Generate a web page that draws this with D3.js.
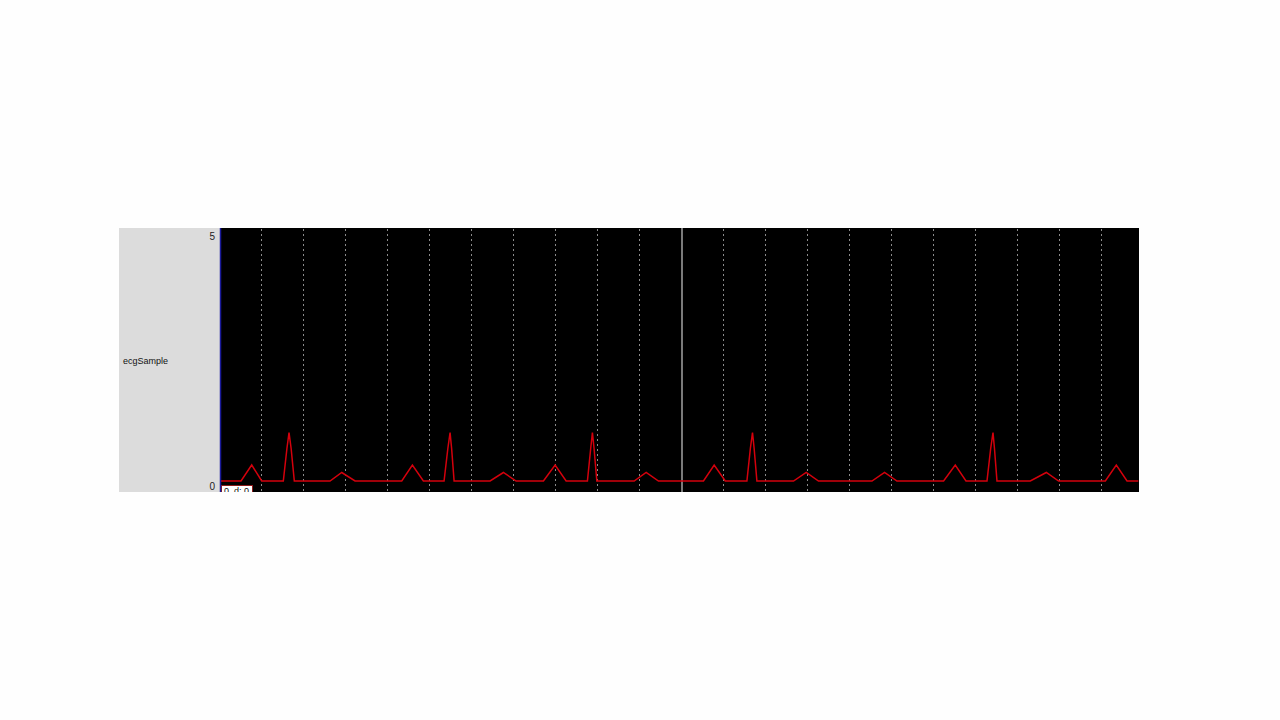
<!DOCTYPE html>
<html>
<head>
<meta charset="utf-8">
<script src="https://cdn.jsdelivr.net/npm/d3@7"></script>
<style>
  html, body { margin: 0; padding: 0; background: #fefefe; }
  svg { display: block; }
</style>
</head>
<body>
<svg id="chart" width="1280" height="720"></svg>
<script>
// ---- data ----
const seriesName = "ecgSample";
const yTickLabels = [0, 5];
const gridTicks = [1,2,3,4,5,6,7,8,9,10,12,13,14,15,16,17,18,19,20,21];
const cursorTick = [11];
const sampleTime = [
  0,
  0.507, 0.762, 1.0,
  1.514, 1.60, 1.65, 1.70, 1.776,
  2.626, 2.905, 3.221,
  4.333, 4.586, 4.848,
  5.340, 5.43, 5.483, 5.52, 5.579,
  6.436, 6.752, 7.055,
  7.705, 7.983, 8.245,
  8.752, 8.83, 8.871, 8.91, 8.976,
  9.864, 10.150, 10.443,
  11.514, 11.769, 12.033,
  12.548, 12.63, 12.681, 12.72, 12.786,
  13.657, 13.960, 14.252,
  15.524, 15.824, 16.119,
  17.229, 17.507, 17.762,
  18.262, 18.35, 18.405, 18.44, 18.500,
  19.293, 19.674, 19.967,
  21.079, 21.340, 21.595,
  21.864
];
const sampleValue = [
  0.1,
  0.1, 0.42, 0.1,
  0.1, 0.75, 1.07, 0.75, 0.1,
  0.1, 0.27, 0.1,
  0.1, 0.42, 0.1,
  0.1, 0.75, 1.07, 0.75, 0.1,
  0.1, 0.27, 0.1,
  0.1, 0.42, 0.1,
  0.1, 0.75, 1.07, 0.75, 0.1,
  0.1, 0.27, 0.1,
  0.1, 0.42, 0.1,
  0.1, 0.75, 1.07, 0.75, 0.1,
  0.1, 0.27, 0.1,
  0.1, 0.27, 0.1,
  0.1, 0.42, 0.1,
  0.1, 0.75, 1.07, 0.75, 0.1,
  0.1, 0.27, 0.1,
  0.1, 0.42, 0.1,
  0.1
];
const cursorLabel = "0  d: 0";

// ---- layout ----
const svg = d3.select("#chart");
const panel = { x: 119, y: 228, w: 101, h: 264 };
const plot = { x: 220, y: 228, w: 919, h: 264 };

const x = d3.scaleLinear().domain([0, 21.88]).range([219.7, 1139]);
const y = d3.scaleLinear().domain([0, 5]).range([486, 236]);

// gray label panel
svg.append("rect").attr("x", panel.x).attr("y", panel.y)
  .attr("width", panel.w).attr("height", panel.h).attr("fill", "#dcdcdc");

// black plot area
svg.append("rect").attr("x", plot.x).attr("y", plot.y)
  .attr("width", plot.w).attr("height", plot.h).attr("fill", "#000");

svg.append("defs").append("clipPath").attr("id", "clip")
  .append("rect").attr("x", plot.x).attr("y", plot.y)
  .attr("width", plot.w).attr("height", plot.h);

const g = svg.append("g").attr("clip-path", "url(#clip)");

// dashed vertical grid
g.selectAll("line.grid").data(gridTicks).join("line")
  .attr("class", "grid")
  .attr("x1", d => Math.round(x(d)) - 0.5).attr("x2", d => Math.round(x(d)) - 0.5)
  .attr("y1", plot.y + 1).attr("y2", plot.y + plot.h)
  .attr("stroke", "#8c8c8c").attr("stroke-width", 1)
  .attr("stroke-dasharray", "2,3");

// solid cursor line
g.selectAll("line.cursor").data(cursorTick).join("line")
  .attr("class", "cursor")
  .attr("x1", d => Math.round(x(d))).attr("x2", d => Math.round(x(d)))
  .attr("y1", plot.y).attr("y2", plot.y + plot.h)
  .attr("stroke", "#7a7a7a").attr("stroke-width", 2);

// left axis line (blue)
svg.append("line").attr("x1", 220.5).attr("x2", 220.5)
  .attr("y1", plot.y).attr("y2", plot.y + plot.h)
  .attr("stroke", "#1a1a9a").attr("stroke-width", 1.5);

// ECG trace
const pts = sampleTime.map((t, i) => [t, sampleValue[i]]);
const line = d3.line().x(d => x(d[0])).y(d => y(d[1]));
g.append("path").datum(pts)
  .attr("d", line)
  .attr("fill", "none")
  .attr("stroke", "#d4000c")
  .attr("stroke-width", 1.5)
  .attr("stroke-linejoin", "miter");

// y tick labels
svg.selectAll("text.ytick").data(yTickLabels).join("text")
  .attr("class", "ytick")
  .attr("x", 215).attr("y", d => y(d))
  .attr("text-anchor", "end").attr("dominant-baseline", "central")
  .attr("font-family", "Liberation Sans, Arial, sans-serif")
  .attr("font-size", 10).attr("fill", "#222")
  .text(d => d);

// series name
svg.append("text").attr("x", 123).attr("y", 361)
  .attr("dominant-baseline", "central")
  .attr("font-family", "Liberation Sans, Arial, sans-serif")
  .attr("font-size", 9).attr("fill", "#111")
  .text(seriesName);

// cursor readout box (clipped at plot bottom)
const box = g.append("g");
box.append("rect").attr("x", 221.5).attr("y", 485.5)
  .attr("width", 31).attr("height", 12)
  .attr("fill", "#fff").attr("stroke", "#8b1a1a").attr("stroke-width", 1);
box.append("text").attr("x", 224).attr("y", 494)
  .attr("font-family", "Liberation Sans, Arial, sans-serif")
  .attr("font-size", 9).attr("fill", "#111")
  .attr("xml:space", "preserve")
  .text(cursorLabel);
</script>
</body>
</html>
